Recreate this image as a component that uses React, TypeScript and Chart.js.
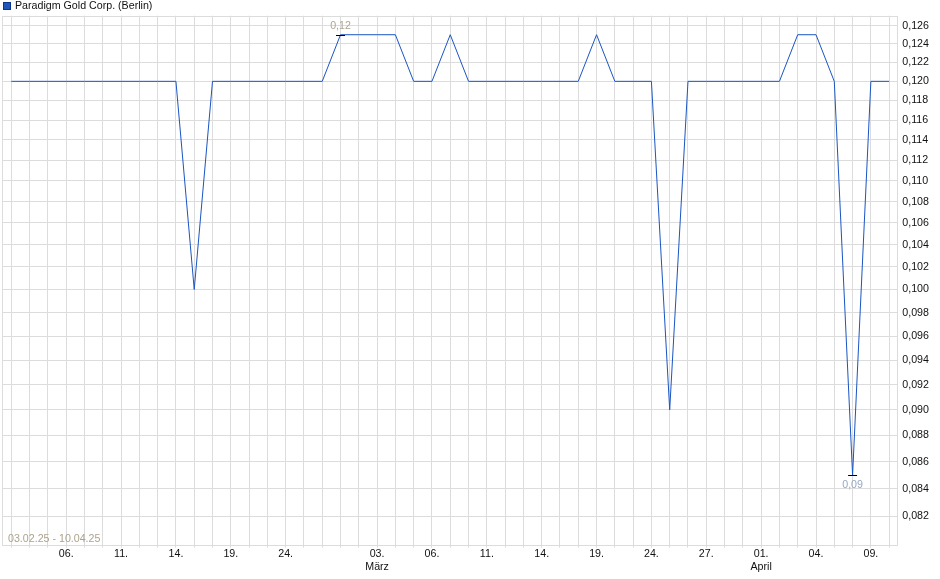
import React, { useEffect, useRef } from "react";
import { Chart, registerables } from "chart.js";

Chart.register(...registerables);

const FONT = "'Liberation Sans', Arial, sans-serif";
const FONT_SIZE = 10.67;

const seriesName = "Paradigm Gold Corp. (Berlin)";
const rangeLabel = "03.02.25 - 10.04.25";

// trading days, 03.02.25 - 10.04.25
const dates = [
  "03.02.", "04.02.", "05.02.", "06.02.", "07.02.",
  "10.02.", "11.02.", "12.02.", "13.02.", "14.02.",
  "17.02.", "18.02.", "19.02.", "20.02.", "21.02.",
  "24.02.", "25.02.", "26.02.", "27.02.", "28.02.",
  "03.03.", "04.03.", "05.03.", "06.03.", "07.03.",
  "10.03.", "11.03.", "12.03.", "13.03.", "14.03.",
  "17.03.", "18.03.", "19.03.", "20.03.", "21.03.",
  "24.03.", "25.03.", "26.03.", "27.03.", "28.03.",
  "31.03.", "01.04.", "02.04.", "03.04.", "04.04.",
  "07.04.", "08.04.", "09.04.", "10.04.",
];

const prices = [
  0.12, 0.12, 0.12, 0.12, 0.12,
  0.12, 0.12, 0.12, 0.12, 0.12,
  0.1, 0.12, 0.12, 0.12, 0.12,
  0.12, 0.12, 0.12, 0.125, 0.125,
  0.125, 0.125, 0.12, 0.12, 0.125,
  0.12, 0.12, 0.12, 0.12, 0.12,
  0.12, 0.12, 0.125, 0.12, 0.12,
  0.12, 0.09, 0.12, 0.12, 0.12,
  0.12, 0.12, 0.12, 0.125, 0.125,
  0.12, 0.085, 0.12, 0.12,
];

const xTickDates = [
  "06.02.", "11.02.", "14.02.", "19.02.", "24.02.",
  "03.03.", "06.03.", "11.03.", "14.03.", "19.03.", "24.03.", "27.03.",
  "01.04.", "04.04.", "09.04.",
];
const monthLabels: Record<string, string> = { "03.03.": "März", "01.04.": "April" };

const yTicks = [
  0.082, 0.084, 0.086, 0.088, 0.09, 0.092, 0.094, 0.096, 0.098, 0.1,
  0.102, 0.104, 0.106, 0.108, 0.11, 0.112, 0.114, 0.116, 0.118, 0.12,
  0.122, 0.124, 0.126,
];

const maxLabel = "0,12";
const minLabel = "0,09";

const GRID = "#dcdcdc";

const framePlugin = {
  id: "frame",
  beforeDraw(chart: any) {
    const { ctx, width, height } = chart;
    ctx.save();
    ctx.fillStyle = "#fff";
    ctx.fillRect(0, 0, width, height);
    ctx.restore();
  },
  beforeDatasetsDraw(chart: any) {
    const { ctx, chartArea: a } = chart;
    ctx.save();
    ctx.strokeStyle = GRID;
    ctx.lineWidth = 1;
    const l = Math.round(a.left) + 0.5;
    const t = Math.round(a.top) + 0.5;
    const r = Math.round(a.right) - 0.5;
    const b = Math.round(a.bottom) - 0.5;
    ctx.strokeRect(l, t, r - l, b - t);
    ctx.restore();
  },
  afterDraw(chart: any) {
    const { ctx, chartArea: a } = chart;
    ctx.save();
    // legend
    ctx.fillStyle = "#1f56bb";
    ctx.fillRect(3, 2, 8, 8);
    ctx.strokeStyle = "#0e3585";
    ctx.lineWidth = 1;
    ctx.strokeRect(3.5, 2.5, 7, 7);
    ctx.font = `${FONT_SIZE}px ${FONT}`;
    ctx.fillStyle = "#111";
    ctx.textBaseline = "middle";
    ctx.textAlign = "left";
    ctx.fillText(seriesName, 15, 6.5);
    // date range
    ctx.fillStyle = "#ada38d";
    ctx.fillText(rangeLabel, 8, a.bottom - 6.5);
    ctx.restore();
  },
};

const extremesPlugin = {
  id: "extremes",
  afterDatasetsDraw(chart: any) {
    const { ctx, scales } = chart;
    let hi = 0;
    let lo = 0;
    prices.forEach((v, i) => {
      if (v > prices[hi]) hi = i;
      if (v < prices[lo]) lo = i;
    });
    ctx.save();
    ctx.font = `${FONT_SIZE}px ${FONT}`;
    ctx.textAlign = "center";
    ctx.textBaseline = "middle";
    ctx.strokeStyle = "#000";
    ctx.lineWidth = 1;
    const draw = (i: number, text: string, dy: number, color: string) => {
      const x = scales.x.getPixelForValue(i);
      const y = Math.round(scales.y.getPixelForValue(prices[i])) + 0.5;
      ctx.beginPath();
      ctx.moveTo(x - 4.5, y);
      ctx.lineTo(x + 4.5, y);
      ctx.stroke();
      ctx.fillStyle = color;
      ctx.fillText(text, x, y + dy);
    };
    draw(hi, maxLabel, -9.5, "#b0a594");
    draw(lo, minLabel, 10, "#97a8c2");
    ctx.restore();
  },
};

export default function App() {
  const canvasRef = useRef<HTMLCanvasElement | null>(null);
  const chartRef = useRef<Chart | null>(null);

  useEffect(() => {
    if (chartRef.current) chartRef.current.destroy();
    const ctx = canvasRef.current?.getContext("2d");
    if (!ctx) return;

    chartRef.current = new Chart(ctx, {
      type: "line",
      data: {
        labels: dates,
        datasets: [
          {
            label: seriesName,
            data: prices,
            borderColor: "#1a55c3",
            borderWidth: 1,
            pointRadius: 0,
            tension: 0,
            fill: false,
          },
        ],
      },
      options: {
        responsive: false,
        animation: false,
        layout: { padding: { top: 15.7, left: 2.2, right: 0, bottom: 0 } },
        plugins: {
          legend: { display: false },
          tooltip: { enabled: false },
        },
        scales: {
          x: {
            type: "category",
            offset: true,
            grid: { color: GRID, offset: false, tickLength: 2, drawTicks: true },
            border: { display: false },
            ticks: {
              autoSkip: false,
              maxRotation: 0,
              padding: 0,
              color: "#111",
              font: { family: FONT, size: FONT_SIZE },
              callback: (_v: any, i: number) => {
                const d = dates[i];
                if (!xTickDates.includes(d)) return "";
                const day = d.slice(0, 3);
                return monthLabels[d] ? [day, monthLabels[d]] : day;
              },
            },
            afterFit: (scale: any) => {
              scale.height = 33.3;
            },
          },
          y: {
            type: "logarithmic",
            position: "right",
            min: 0.0799,
            max: 0.1271,
            grid: { color: GRID, drawTicks: false },
            border: { display: false },
            afterBuildTicks: (scale: any) => {
              scale.ticks = yTicks.map((v) => ({ value: v }));
            },
            ticks: {
              padding: 4,
              color: "#111",
              font: { family: FONT, size: FONT_SIZE },
              callback: (v: any) => Number(v).toFixed(3).replace(".", ","),
            },
            afterFit: (scale: any) => {
              scale.width = 41.7;
            },
          },
        },
      },
      plugins: [framePlugin, extremesPlugin],
    });

    return () => {
      if (chartRef.current) chartRef.current.destroy();
      chartRef.current = null;
    };
  }, []);

  return (
    <div style={{ position: "absolute", left: 0, top: 0, width: 940, height: 579, background: "#fff" }}>
      <canvas ref={canvasRef} width={940} height={579} style={{ display: "block" }}></canvas>
    </div>
  );
}
